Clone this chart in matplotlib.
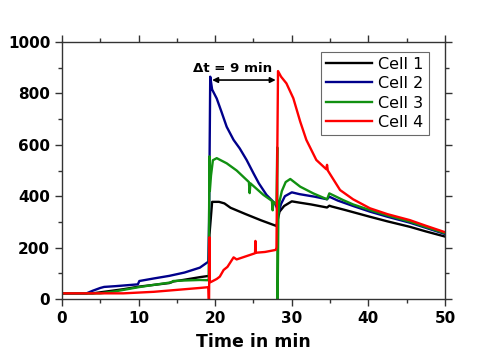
import matplotlib
matplotlib.use('Agg')
import matplotlib.pyplot as plt
from matplotlib.ticker import MultipleLocator

plt.rc('font', family=['DejaVu Sans'])

# Cell 1 (black)
t1 = [0, 4, 6, 8, 10, 12, 14, 14.5, 16, 18, 19.2, 19.25, 19.6, 20.5, 21.2, 22,
      24, 26, 28.0, 28.1, 28.4, 29, 30, 31, 32.5, 34.6, 34.9, 35.2, 37, 40.2,
      42.5, 45.4, 47.5, 50]
v1 = [22, 22, 30, 38, 48, 55, 62, 68, 75, 85, 90, 250, 378, 378, 372, 355,
      330, 306, 284, 300, 340, 362, 380, 375, 368, 356, 363, 360, 346, 320,
      302, 281, 263, 243]

# Cell 2 (blue)
t2 = [0, 3.2, 4, 5, 5.5, 7, 9.9, 10.1, 12, 14, 16, 18, 19.1, 19.2, 19.35,
      19.6, 20.2, 20.8, 21.5, 22.4, 23.2, 24.1, 25, 25.7, 26.7, 27.8, 28.05,
      28.2, 28.6, 29.1, 30, 31, 33, 34.6, 34.9, 36, 38, 40.2, 42.5, 45.4,
      47.5, 50]
v2 = [22, 22, 32, 43, 47, 50, 57, 70, 80, 90, 103, 122, 145, 300, 865,
      815, 780, 730, 670, 619, 586, 541, 489, 450, 405, 372, 355,
      330, 370, 400, 415, 408, 398, 388, 398, 383, 362, 340, 320, 297,
      277, 253]

# Cell 3 (green)
t3 = [0, 5, 7, 10, 12, 14.3, 14.5, 16, 18, 19.15, 19.25, 19.3, 19.45, 19.7,
      20.2, 21.5, 22.8, 24.4, 24.5, 24.6, 26.3, 27.4, 27.5, 27.6, 28.0, 28.1,
      28.15, 28.25, 28.4, 28.7, 29.2, 29.8, 31.1, 32.8, 34.6, 34.9, 36.7, 38,
      40.2, 42.5, 45.4, 47.5, 50]
v3 = [22, 22, 30, 46, 55, 65, 70, 72, 74, 73, 555, 420, 480, 540,
      548, 528, 500, 455, 412, 450, 405, 382, 345, 378, 368, 590,
      0, 330, 380, 420, 455, 467, 437, 411, 388, 411, 385, 368,
      346, 325, 301, 280, 256]

# Cell 4 (red)
t4 = [0, 8, 10, 12, 14, 16, 18, 19.1, 19.15, 19.2, 19.25, 19.3, 19.5, 20.2,
      20.6, 21.1, 21.6, 22.4, 22.8, 24.1, 25.2, 25.25, 25.3, 26.5, 27.9, 28.0,
      28.2, 28.6, 29.3, 30.2, 31.1, 31.9, 33.2, 34.5, 34.6, 34.7, 36.3, 38,
      40.2, 42.5, 45.4, 47.5, 50]
v4 = [22, 22, 25, 28, 33, 38, 43, 46, 0, 0, 240, 65, 67, 78,
      87, 113, 125, 162, 154, 167, 178, 226, 180, 183, 191, 200,
      887, 865, 839, 781, 690, 619, 541, 505, 522, 500, 424, 388,
      353, 330, 307, 285, 260]

series = [(t1, v1, 'black', 'Cell 1'),
          (t2, v2, '#00008b', 'Cell 2'),
          (t3, v3, '#119011', 'Cell 3'),
          (t4, v4, '#ff0000', 'Cell 4')]

fig = plt.figure(figsize=(4.85, 3.6), dpi=100)
ax = fig.add_axes([62/485, 1-299/360, (445-62)/485, (299-42)/360])

for t, v, c, lab in series:
    ax.plot(t, v, color=c, lw=1.7, label=lab)

# delta t annotation
ax.annotate('', xy=(19.6, 852), xytext=(27.9, 852),
            arrowprops=dict(arrowstyle='<|-|>', color='black', lw=1.2,
                            mutation_scale=8, shrinkA=0, shrinkB=0))
ax.text(22.3, 897, '\u0394t = 9 min', ha='center', va='center',
        fontsize=9.6, fontweight='bold')

ax.set_xlim(0, 50)
ax.set_ylim(0, 1000)
ax.xaxis.set_major_locator(MultipleLocator(10))
ax.xaxis.set_minor_locator(MultipleLocator(5))
ax.yaxis.set_major_locator(MultipleLocator(200))
ax.yaxis.set_minor_locator(MultipleLocator(100))
ax.tick_params(which='both', direction='out', top=True, right=True,
               colors='#333333', labelcolor='black', width=1)
ax.tick_params(which='major', length=5, labelsize=11)
ax.tick_params(which='minor', length=3)
for lbl in ax.get_xticklabels() + ax.get_yticklabels():
    lbl.set_fontweight('bold')
for s in ax.spines.values():
    s.set_color('#333333')
    s.set_linewidth(1)

ax.set_xlabel('Time in min', fontsize=12.5, fontweight='bold', labelpad=5)

leg = ax.legend(loc='upper right', bbox_to_anchor=(0.957, 0.962),
                fontsize=11.5, frameon=True, fancybox=False,
                handlelength=2.9, labelspacing=0.28, borderpad=0.3,
                handletextpad=0.4, borderaxespad=0)
leg.get_frame().set_edgecolor('#444444')
leg.get_frame().set_linewidth(0.8)

plt.savefig('out.png', dpi=100)
